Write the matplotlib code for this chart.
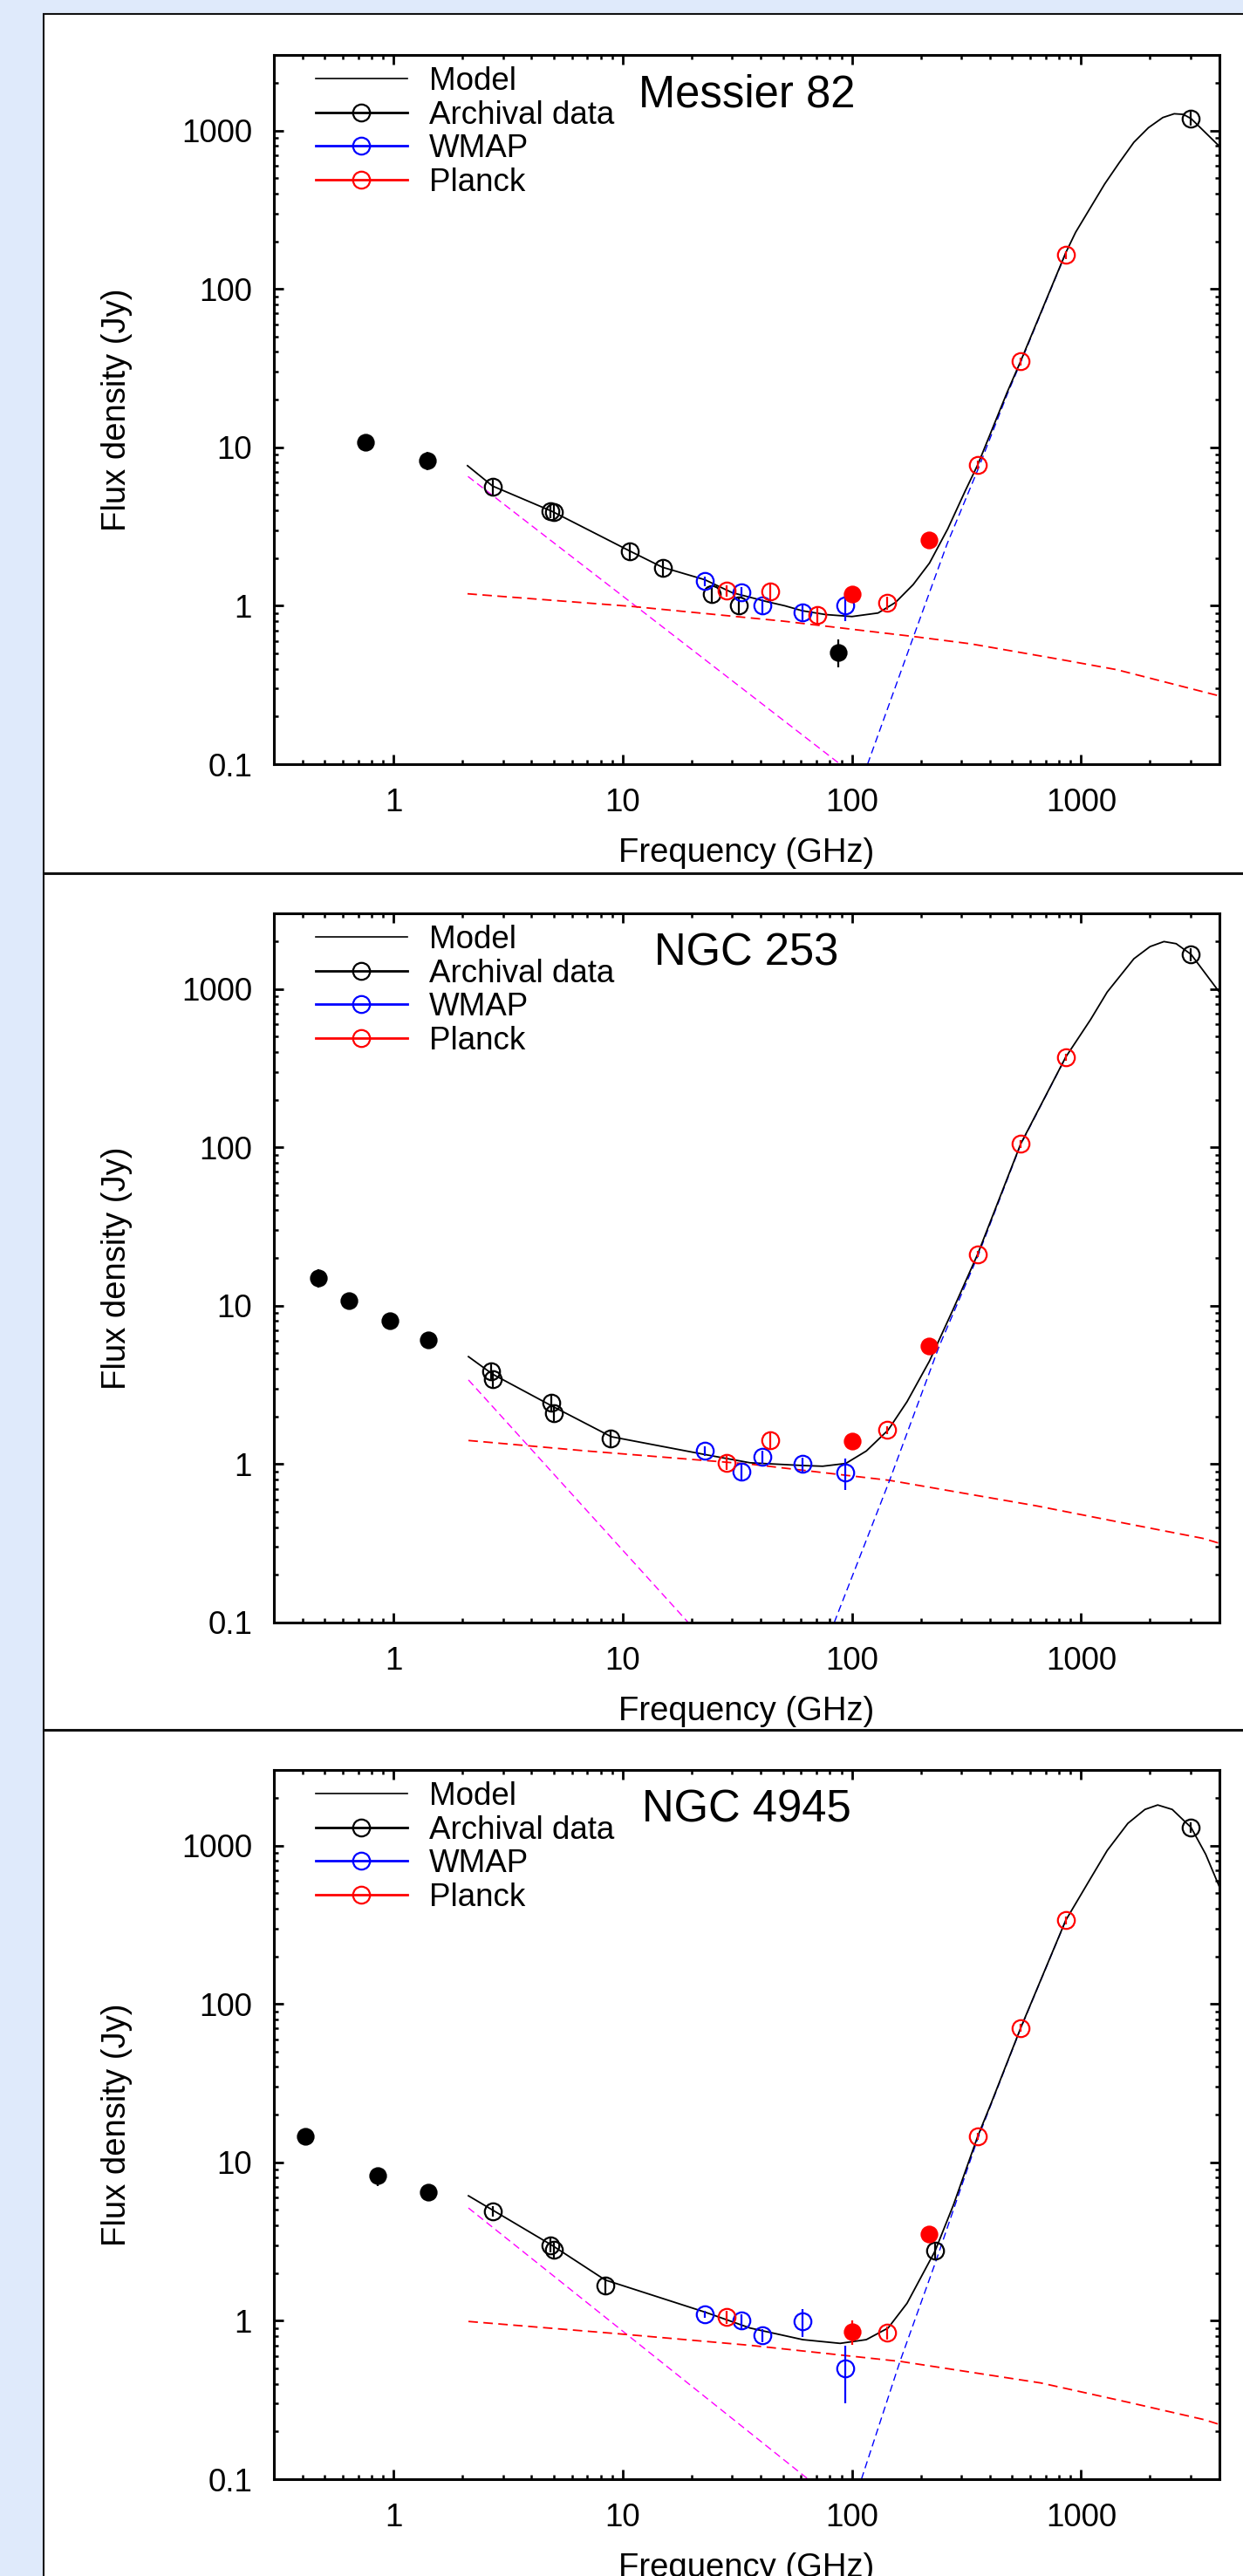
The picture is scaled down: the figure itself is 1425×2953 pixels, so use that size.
import numpy as np
import matplotlib
matplotlib.use('Agg')
from matplotlib import pyplot as plt
from matplotlib.lines import Line2D
from matplotlib.patches import Rectangle
from matplotlib.ticker import LogLocator, NullFormatter

plt.rcParams['font.family'] = ['Liberation Sans', 'DejaVu Sans']

# ---- Messier 82 ----
m82_fill_f = [0.75, 1.4, 87.5]
m82_fill_s = [10.7, 8.3, 0.51]
m82_fill_e = [0.5, 1.1, 0.1]
m82_arch_f = [2.7, 4.85, 5.0, 10.7, 14.9, 24.4, 32.1, 3000]
m82_arch_s = [5.65, 3.95, 3.9, 2.2, 1.73, 1.18, 1.01, 1190]
m82_arch_e = [0.6, 0.4, 0.4, 0.25, 0.2, 0.13, 0.12, 120]
m82_wmap_f = [22.8, 33.0, 40.7, 60.8, 93.5]
m82_wmap_s = [1.43, 1.22, 1.0, 0.91, 1.0]
m82_wmap_e = [0.1, 0.1, 0.1, 0.1, 0.2]
m82_planck_f = [28.4, 44.1, 70.4, 143, 353, 545, 857]
m82_planck_s = [1.24, 1.23, 0.87, 1.04, 7.76, 35, 164]
m82_planck_e = [0.1, 0.15, 0.12, 0.1, 0.5, 2, 10]
m82_pfill_f = [100, 217]
m82_pfill_s = [1.18, 2.59]
m82_pfill_e = [0.05, 0.1]
m82_model_f = [2.1, 2.7, 4.9, 10.7, 14.9, 22.8, 30, 42.7, 50.9, 60.7, 76.7, 100, 130, 155, 185, 218,
               262, 312, 354, 476, 545, 857, 947, 1268, 1468, 1700, 1968, 2274, 2550, 2794, 3020, 4000]
m82_model_s = [7.66, 5.7, 3.95, 2.22, 1.75, 1.46, 1.21, 1.06, 1.0, 0.93, 0.88, 0.855, 0.9, 1.05, 1.36, 1.86,
               3.06, 5.3, 7.76, 22.3, 35, 169, 228, 460, 627, 843, 1042, 1208, 1276, 1265, 1190, 800]
m82_sync_f = [2.11, 88.8]
m82_sync_s = [6.55, 0.1]
m82_ff_f = [2.1, 11, 50, 185, 330, 800, 1430, 1910, 4000]
m82_ff_s = [1.19, 0.99, 0.80, 0.64, 0.575, 0.46, 0.395, 0.355, 0.27]
m82_dust_f = [117, 185, 260, 354, 476, 545, 857]
m82_dust_s = [0.1, 0.63, 2.45, 7.2, 21.6, 34.4, 168]

# ---- NGC 253 ----
n253_fill_f = [0.47, 0.64, 0.96, 1.42]
n253_fill_s = [15.0, 10.7, 8.0, 6.1]
n253_fill_e = [2.0, 0.5, 0.4, 0.3]
n253_arch_f = [2.66, 2.70, 4.87, 5.02, 8.88, 3000]
n253_arch_s = [3.86, 3.44, 2.43, 2.11, 1.45, 1650]
n253_arch_e = [0.4, 0.4, 0.3, 0.25, 0.15, 150]
n253_wmap_f = [22.8, 33.0, 40.7, 60.8, 93.5]
n253_wmap_s = [1.21, 0.90, 1.11, 1.0, 0.885]
n253_wmap_e = [0.08, 0.1, 0.1, 0.1, 0.2]
n253_planck_f = [28.4, 44.1, 143, 353, 545, 857]
n253_planck_s = [1.02, 1.41, 1.64, 21.2, 105, 371]
n253_planck_e = [0.1, 0.15, 0.1, 1, 6, 20]
n253_pfill_f = [100, 217]
n253_pfill_s = [1.40, 5.57]
n253_pfill_e = [0.05, 0.2]
n253_model_f = [2.12, 2.7, 4.9, 8.9, 22.8, 35.9, 61, 74.5, 94, 115.5, 143.8, 174, 218, 277.5, 354, 545,
                857, 1100, 1300, 1700, 2000, 2300, 2600, 3020, 4000]
n253_model_s = [4.77, 3.7, 2.33, 1.49, 1.15, 1.02, 0.98, 0.97, 1.01, 1.21, 1.64, 2.48, 4.48, 9.6, 21.2, 105,
                371, 640, 955, 1550, 1850, 1990, 1930, 1653, 961]
n253_sync_f = [2.12, 19.3]
n253_sync_s = [3.4, 0.1]
n253_ff_f = [2.12, 7, 36, 146, 640, 1600, 3400, 4000]
n253_ff_s = [1.41, 1.21, 1.0, 0.79, 0.545, 0.42, 0.34, 0.317]
n253_dust_f = [83.7, 146, 240, 354, 545, 857]
n253_dust_s = [0.1, 0.79, 5.53, 20.5, 104, 370]

# ---- NGC 4945 ----
n4945_fill_f = [0.41, 0.85, 1.42]
n4945_fill_s = [14.6, 8.2, 6.5]
n4945_fill_e = [0.5, 1.1, 0.3]
n4945_arch_f = [2.72, 4.85, 5.0, 8.37, 230, 3000]
n4945_arch_s = [4.92, 3.0, 2.82, 1.66, 2.76, 1300]
n4945_arch_e = [0.4, 0.3, 0.3, 0.2, 0.3, 100]
n4945_wmap_f = [22.8, 33.0, 40.7, 60.8, 93.5]
n4945_wmap_s = [1.10, 1.0, 0.81, 0.99, 0.50]
n4945_wmap_e = [0.05, 0.1, 0.08, 0.2, 0.2]
n4945_planck_f = [28.4, 143, 353, 545, 857]
n4945_planck_s = [1.056, 0.845, 14.6, 70.5, 337]
n4945_planck_e = [0.1, 0.08, 0.8, 4, 18]
n4945_pfill_f = [100, 217]
n4945_pfill_s = [0.851, 3.52]
n4945_pfill_e = [0.15, 0.1]
n4945_model_f = [2.12, 2.72, 4.9, 8.37, 22.8, 35.9, 61, 88.8, 115.5, 143.8, 174, 230.6, 277.5, 354, 406,
                 545, 857, 1100, 1300, 1600, 1900, 2160, 2500, 3020, 3500, 4000]
n4945_model_s = [6.15, 4.97, 3.0, 1.81, 1.135, 0.90, 0.76, 0.72, 0.76, 0.90, 1.29, 2.76, 5.4, 14.6, 23.8,
                 70.5, 337, 620, 930, 1380, 1690, 1803, 1690, 1301, 880, 556]
n4945_sync_f = [2.12, 64.4]
n4945_sync_s = [5.15, 0.1]
n4945_ff_f = [2.12, 9.35, 35.9, 164, 667, 1603, 3428, 4000]
n4945_ff_s = [0.99, 0.83, 0.70, 0.553, 0.405, 0.306, 0.238, 0.222]
n4945_dust_f = [110, 162, 230.6, 354, 545, 857]
n4945_dust_s = [0.1, 0.553, 2.3, 14.1, 70, 336]

x_ticks = [1, 10, 100, 1000]
x_ticklabels = ['1', '10', '100', '1000']
y_ticks = [0.1, 1, 10, 100, 1000]
y_ticklabels = ['0.1', '1', '10', '100', '1000']

panels = [
    dict(name='Messier 82', top=63,
         fill=(m82_fill_f, m82_fill_s, m82_fill_e), arch=(m82_arch_f, m82_arch_s, m82_arch_e),
         wmap=(m82_wmap_f, m82_wmap_s, m82_wmap_e), planck=(m82_planck_f, m82_planck_s, m82_planck_e),
         pfill=(m82_pfill_f, m82_pfill_s, m82_pfill_e), model=(m82_model_f, m82_model_s),
         sync=(m82_sync_f, m82_sync_s), ff=(m82_ff_f, m82_ff_s), dust=(m82_dust_f, m82_dust_s)),
    dict(name='NGC 253', top=1047,
         fill=(n253_fill_f, n253_fill_s, n253_fill_e), arch=(n253_arch_f, n253_arch_s, n253_arch_e),
         wmap=(n253_wmap_f, n253_wmap_s, n253_wmap_e), planck=(n253_planck_f, n253_planck_s, n253_planck_e),
         pfill=(n253_pfill_f, n253_pfill_s, n253_pfill_e), model=(n253_model_f, n253_model_s),
         sync=(n253_sync_f, n253_sync_s), ff=(n253_ff_f, n253_ff_s), dust=(n253_dust_f, n253_dust_s)),
    dict(name='NGC 4945', top=2029,
         fill=(n4945_fill_f, n4945_fill_s, n4945_fill_e), arch=(n4945_arch_f, n4945_arch_s, n4945_arch_e),
         wmap=(n4945_wmap_f, n4945_wmap_s, n4945_wmap_e), planck=(n4945_planck_f, n4945_planck_s, n4945_planck_e),
         pfill=(n4945_pfill_f, n4945_pfill_s, n4945_pfill_e), model=(n4945_model_f, n4945_model_s),
         sync=(n4945_sync_f, n4945_sync_s), ff=(n4945_ff_f, n4945_ff_s), dust=(n4945_dust_f, n4945_dust_s)),
]

W, H = 1425, 2953
BG = '#dfeafb'
MS = 14
FS = 26.5


def points(ax, data, color, filled):
	f, s, e = data
	ax.errorbar(f, s, yerr=e, fmt='o', ms=MS if not filled else 13,
	            mfc=color if filled else 'none', mec=color, mew=1.6,
	            ecolor=color, elinewidth=1.6, capsize=0, zorder=5)


def draw_panel(ax, p):
	ax.plot(*p['sync'], color='#ff00ff', lw=1.0, dashes=(6, 3.5), zorder=2)
	ax.plot(*p['ff'], color='#ff0000', lw=1.3, dashes=(6, 3.5), zorder=2)
	ax.plot(*p['dust'], color='#0000ff', lw=1.0, dashes=(6, 3.5), zorder=2)
	ax.plot(*p['model'], color='black', lw=1.3, zorder=3)

	points(ax, p['fill'], 'black', True)
	points(ax, p['arch'], 'black', False)
	points(ax, p['wmap'], '#0000ff', False)
	points(ax, p['planck'], '#ff0000', False)
	points(ax, p['pfill'], '#ff0000', True)

	ax.set_xscale('log')
	ax.set_yscale('log')
	ax.set_xlim(0.3, 4000)
	ax.set_ylim(0.1, 3000)
	ax.set_xticks(x_ticks)
	ax.set_xticklabels(x_ticklabels)
	ax.set_yticks(y_ticks)
	ax.set_yticklabels(y_ticklabels)
	ax.xaxis.set_minor_locator(LogLocator(base=10, subs=np.arange(2, 10), numticks=20))
	ax.yaxis.set_minor_locator(LogLocator(base=10, subs=np.arange(2, 10), numticks=20))
	ax.xaxis.set_minor_formatter(NullFormatter())
	ax.yaxis.set_minor_formatter(NullFormatter())
	ax.tick_params(which='both', direction='in', top=True, right=True, labelsize=FS)
	ax.tick_params(which='major', length=7.7, width=2.0)
	ax.tick_params(which='minor', length=3.8, width=1.8)
	ax.tick_params(axis='y', pad=18)
	ax.tick_params(axis='x', pad=19.5)
	for sp in ax.spines.values():
		sp.set_linewidth(2.2)

	ax.set_xlabel('Frequency (GHz)', fontsize=27.5, va='center')
	ax.xaxis.set_label_coords(0.5, -0.1255)
	ax.set_ylabel('Flux density (Jy)', fontsize=27.5, va='center')
	ax.yaxis.set_label_coords(-0.1657, 0.5)

	ax.text(0.5, 0.927, p['name'], transform=ax.transAxes, ha='center', va='baseline', fontsize=36.5)

	handles = [
		Line2D([], [], color='black', lw=1.2),
		Line2D([], [], color='black', lw=2.0, marker='o', ms=MS, mfc='none', mew=1.6),
		Line2D([], [], color='#0000ff', lw=2.0, marker='o', ms=MS, mfc='none', mew=1.6),
		Line2D([], [], color='#ff0000', lw=2.0, marker='o', ms=MS, mfc='none', mew=1.6),
	]
	ax.legend(handles, ['Model', 'Archival data', 'WMAP', 'Planck'], loc='upper left',
	          bbox_to_anchor=(0.044, 0.984), frameon=False, fontsize=FS, borderpad=0,
	          borderaxespad=0, handlelength=2.87, handletextpad=0.67, labelspacing=0.1)


fig = plt.figure(figsize=(W / 100, H / 100), dpi=100)
fig.patch.set_facecolor(BG)

fig.add_artist(Rectangle((50 / W, -0.1), 1.2, 1.1 - 16 / H, transform=fig.transFigure,
                         facecolor='white', edgecolor='#111111', lw=1.5, zorder=-1))
for ysep in [1001, 1982.5]:
	fig.add_artist(Line2D([50 / W, 1.0], [1 - ysep / H, 1 - ysep / H], transform=fig.transFigure,
	                      color='#111111', lw=2.2, zorder=-0.5))

left = 314 / W
width = (1397.5 - 314) / W
height = 813 / H
for p in panels:
	ax = fig.add_axes([left, 1 - (p['top'] + 813) / H, width, height])
	draw_panel(ax, p)

fig.savefig('out.png', dpi=100, facecolor=BG)
